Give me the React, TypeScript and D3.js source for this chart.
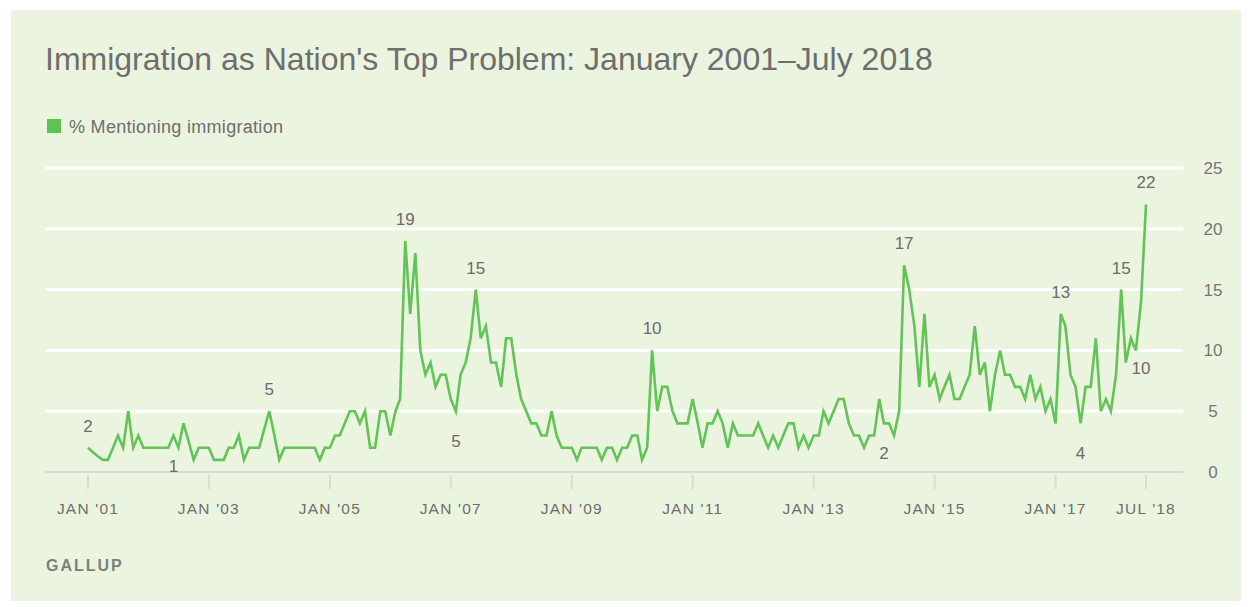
import React, { useEffect, useRef } from 'react';
import * as d3 from 'd3';

// % of Americans naming immigration as the top problem, monthly Jan 2001 - Jul 2018
const pctMentioning: number[] = [
  2, 1.6, 1.3, 1, 1, 2, 3, 2, 5, 2, 3, 2,
  2, 2, 2, 2, 2, 3, 2, 4, 2.5, 1, 2, 2,
  2, 1, 1, 1, 2, 2, 3, 1, 2, 2, 2, 3.5,
  5, 3, 1, 2, 2, 2, 2, 2, 2, 2, 1, 2,
  2, 3, 3, 4, 5, 5, 4, 5, 2, 2, 5, 5,
  3, 5, 6, 19, 13, 18, 10, 8, 9, 7, 8, 8,
  6, 5, 8, 9, 11, 15, 11, 12, 9, 9, 7, 11,
  11, 8, 6, 5, 4, 4, 3, 3, 5, 3, 2, 2,
  2, 1, 2, 2, 2, 2, 1, 2, 2, 1, 2, 2,
  3, 3, 1, 2, 10, 5, 7, 7, 5, 4, 4, 4,
  6, 4, 2, 4, 4, 5, 4, 2, 4, 3, 3, 3,
  3, 4, 3, 2, 3, 2, 3, 4, 4, 2, 3, 2,
  3, 3, 5, 4, 5, 6, 6, 4, 3, 3, 2, 3,
  3, 6, 4, 4, 3, 5, 17, 15, 12, 7, 13, 7,
  8, 6, 7, 8, 6, 6, 7, 8, 12, 8, 9, 5,
  8, 10, 8, 8, 7, 7, 6, 8, 6, 7, 5, 6,
  4, 13, 12, 8, 7, 4, 7, 7, 11, 5, 6, 5,
  8, 15, 9, 11, 10, 14, 22,
];

const tickYears: number[] = [2001, 2003, 2005, 2007, 2009, 2011, 2013, 2015, 2017];
const tickLabels: string[] = ["JAN '01", "JAN '03", "JAN '05", "JAN '07", "JAN '09", "JAN '11", "JAN '13", "JAN '15", "JAN '17", "JUL '18"];
const yTicks: number[] = [0, 5, 10, 15, 20, 25];

// labelled points: month index from Jan 2001, value, shown text, above/below
const callouts = [
  { month: 0, value: 2, text: '2', side: 'above' },
  { month: 17, value: 3, text: '1', side: 'below' },
  { month: 36, value: 5, text: '5', side: 'above' },
  { month: 63, value: 19, text: '19', side: 'above' },
  { month: 73, value: 5, text: '5', side: 'below' },
  { month: 77, value: 15, text: '15', side: 'above' },
  { month: 112, value: 10, text: '10', side: 'above' },
  { month: 158, value: 4, text: '2', side: 'below' },
  { month: 162, value: 17, text: '17', side: 'above' },
  { month: 193, value: 13, text: '13', side: 'above' },
  { month: 197, value: 4, text: '4', side: 'below' },
  { month: 205, value: 15, text: '15', side: 'above' },
  { month: 209, value: 10, text: '10', side: 'side' },
  { month: 210, value: 22, text: '22', side: 'above' },
];

const W = 1252;
const H = 607;

const App = () => {
  const chartRef = useRef<SVGSVGElement | null>(null);

  useEffect(() => {
    const svg = d3.select(chartRef.current);
    svg.selectAll('*').remove();

    const months = d3.timeMonth.range(new Date(2001, 0, 1), new Date(2018, 7, 1));
    const series = months.map((d, i) => ({ date: d, value: pctMentioning[i] }));

    const xScale = d3.scaleTime()
      .domain([new Date(2001, 0, 1), new Date(2018, 6, 1)])
      .range([88, 1146]);
    const yScale = d3.scaleLinear().domain([0, 25]).range([472, 168]);

    svg.append('rect')
      .attr('x', 11).attr('y', 10)
      .attr('width', 1230).attr('height', 591)
      .attr('fill', '#ebf4df');

    svg.append('text')
      .attr('x', 45).attr('y', 70)
      .style('font-family', '"Liberation Sans", Arial, sans-serif')
      .style('font-size', '32px')
      .attr('fill', '#6e6e6e')
      .text('Immigration as Nation\'s Top Problem: January 2001\u2013July 2018');

    svg.append('rect')
      .attr('x', 47).attr('y', 119)
      .attr('width', 14).attr('height', 14)
      .attr('fill', '#5ec354');
    svg.append('text')
      .attr('x', 69).attr('y', 133)
      .style('font-family', '"Liberation Sans", Arial, sans-serif')
      .style('font-size', '18px')
      .style('letter-spacing', '0.3px')
      .attr('fill', '#6e6e6e')
      .text('% Mentioning immigration');

    // grid
    svg.append('g')
      .selectAll('line')
      .data(yTicks.filter(t => t > 0))
      .enter()
      .append('line')
      .attr('x1', 45).attr('x2', 1183)
      .attr('y1', d => yScale(d)).attr('y2', d => yScale(d))
      .attr('stroke', '#ffffff')
      .attr('stroke-width', 3);
    svg.append('line')
      .attr('x1', 45).attr('x2', 1183)
      .attr('y1', yScale(0)).attr('y2', yScale(0))
      .attr('stroke', '#d7ddd0')
      .attr('stroke-width', 2);

    svg.append('g')
      .selectAll('text')
      .data(yTicks)
      .enter()
      .append('text')
      .attr('x', 1213)
      .attr('y', d => yScale(d))
      .attr('dy', '0.35em')
      .attr('text-anchor', 'middle')
      .style('font-family', '"Liberation Sans", Arial, sans-serif')
      .style('font-size', '17px')
      .attr('fill', '#767676')
      .text(d => String(d));

    // x ticks
    const tickDates = tickYears.map(y => new Date(y, 0, 1)).concat([new Date(2018, 6, 1)]);
    const xg = svg.append('g');
    xg.selectAll('line')
      .data(tickDates)
      .enter()
      .append('line')
      .attr('x1', d => xScale(d)).attr('x2', d => xScale(d))
      .attr('y1', 475).attr('y2', 489)
      .attr('stroke', '#d7ddd0')
      .attr('stroke-width', 2);
    xg.selectAll('text')
      .data(tickDates)
      .enter()
      .append('text')
      .attr('x', d => xScale(d))
      .attr('y', 514)
      .attr('text-anchor', 'middle')
      .style('font-family', '"Liberation Sans", Arial, sans-serif')
      .style('font-size', '15.5px')
      .style('letter-spacing', '1.2px')
      .attr('fill', '#6e6e6e')
      .text((d, i) => tickLabels[i]);

    const line = d3.line<{ date: Date; value: number }>()
      .x(d => xScale(d.date))
      .y(d => yScale(d.value))
      .curve(d3.curveLinear);

    svg.append('path')
      .datum(series)
      .attr('d', line)
      .attr('fill', 'none')
      .attr('stroke', '#62c457')
      .attr('stroke-width', 2.6)
      .attr('stroke-linejoin', 'miter');

    svg.append('g')
      .selectAll('text')
      .data(callouts)
      .enter()
      .append('text')
      .attr('x', d => xScale(months[d.month]))
      .attr('y', d => yScale(d.value) + (d.side === 'above' ? -16 : d.side === 'below' ? 36 : 24))
      .attr('text-anchor', 'middle')
      .style('font-family', '"Liberation Sans", Arial, sans-serif')
      .style('font-size', '17px')
      .attr('fill', '#6b6b6b')
      .text(d => d.text);

    svg.append('text')
      .attr('x', 46).attr('y', 571)
      .style('font-family', '"Liberation Sans", Arial, sans-serif')
      .style('font-size', '16px')
      .style('font-weight', 'bold')
      .style('letter-spacing', '2px')
      .attr('fill', '#7b8278')
      .text('GALLUP');
  }, []);

  return (
    <svg ref={chartRef} width={W} height={H}
      style={{ position: 'absolute', left: 0, top: 0, background: '#ffffff' }} />
  );
};

export default App;
